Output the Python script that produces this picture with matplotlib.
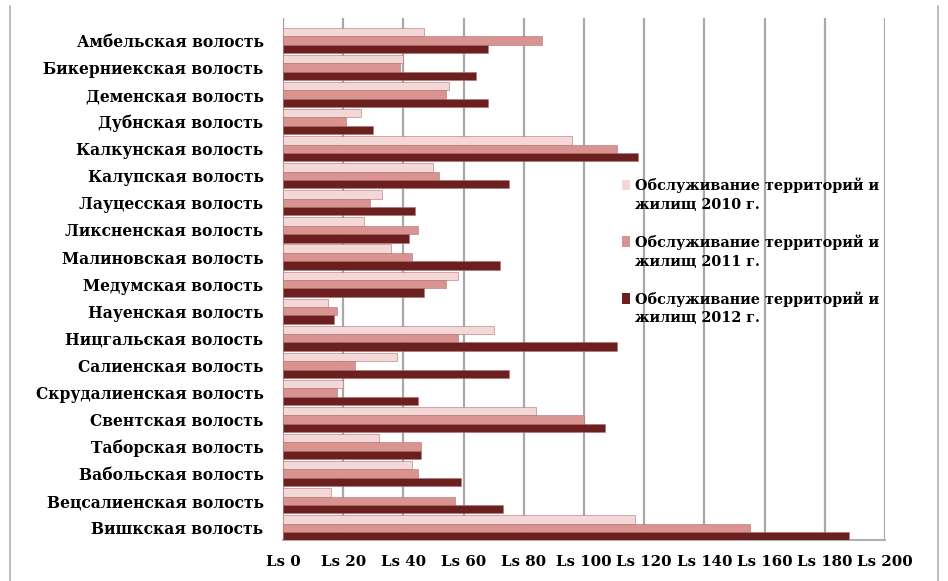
import numpy as np
import matplotlib.pyplot as plt
from matplotlib.lines import Line2D
from matplotlib.patches import Rectangle, Patch
from matplotlib.legend_handler import HandlerPatch

# volosts, top to bottom
volosts = ["Амбельская волость", "Бикерниекская волость", "Деменская волость",
           "Дубнская волость", "Калкунская волость", "Калупская волость",
           "Лауцесская волость", "Ликсненская волость", "Малиновская волость",
           "Медумская волость", "Науенская волость", "Ницгальская волость",
           "Салиенская волость", "Скрудалиенская волость", "Свентская волость",
           "Таборская волость", "Вабольская волость", "Вецсалиенская волость",
           "Вишкская волость"]

y2010 = [47, 40, 55, 26, 96, 50, 33, 27, 36, 58, 15, 70, 38, 20, 84, 32, 43, 16, 117]
y2011 = [86, 39, 54, 21, 111, 52, 29, 45, 43, 54, 18, 58, 24, 18, 100, 46, 45, 57, 155]
y2012 = [68, 64, 68, 30, 118, 75, 44, 42, 72, 47, 17, 111, 75, 45, 107, 46, 59, 73, 188]

series_labels = ["Обслуживание территорий и\nжилищ 2010 г.",
                 "Обслуживание территорий и\nжилищ 2011 г.",
                 "Обслуживание территорий и\nжилищ 2012 г."]
colors = ["#f4d8d7", "#d99390", "#6b1f1f"]
xticks = list(range(0, 201, 20))

plt.rcParams['font.family'] = ['DejaVu Serif']

fig = plt.figure(figsize=(9.48, 5.81), dpi=100)
ax = fig.add_axes([0.2985, 0.0706, 0.635, 0.898])

pos = np.arange(len(volosts))
h = 0.31
for k, (vals, col, lab) in enumerate(zip([y2010, y2011, y2012], colors, series_labels)):
    ax.barh(pos + (k - 1) * h, vals, height=h, color=col, edgecolor="#b07070",
            linewidth=0.4, label=lab, zorder=3)

ax.set_xlim(0, 200)
ax.set_ylim(18.45, -0.82)
ax.set_yticks(pos)
ax.set_yticklabels(volosts, fontsize=11.2, fontweight="bold")
ax.set_xticks(xticks)
ax.set_xticklabels(["Ls %d" % v for v in xticks], fontsize=10.8, fontweight="bold")
ax.tick_params(axis="y", length=0, pad=14)
ax.tick_params(axis="x", length=0, pad=11)

ax.grid(axis="x", color="#a8a8a8", linewidth=1.6, zorder=0)
for s in ["top", "right"]:
    ax.spines[s].set_visible(False)
ax.spines["left"].set_color("#a0a0a0")
ax.spines["bottom"].set_color("#b0b0b0")
ax.spines["bottom"].set_linewidth(1.5)

# legend square sits next to the first line of its label
def square_up(legend, orig_handle, xdescent, ydescent, width, height, fontsize):
    return Rectangle((-xdescent, -ydescent + 0.7 * fontsize), width, height)

handles = [Patch(facecolor=c, edgecolor="none") for c in colors]
leg = ax.legend(handles, series_labels, loc="upper left", bbox_to_anchor=(0.542, 0.72),
                frameon=False, prop={"weight": "bold", "size": 10.4}, handlelength=0.55,
                handleheight=0.75, handletextpad=0.35, labelspacing=1.55,
                handler_map={Patch: HandlerPatch(patch_func=square_up)})
for t in leg.get_texts():
    t.set_linespacing(1.45)

# outer frame lines
fig.add_artist(Line2D([10 / 948, 10 / 948], [0, 0.99], color="#b0b0b0", lw=1.2))
fig.add_artist(Line2D([938 / 948, 938 / 948], [0, 0.99], color="#b0b0b0", lw=1.2))

fig.savefig("out.png", dpi=100)
